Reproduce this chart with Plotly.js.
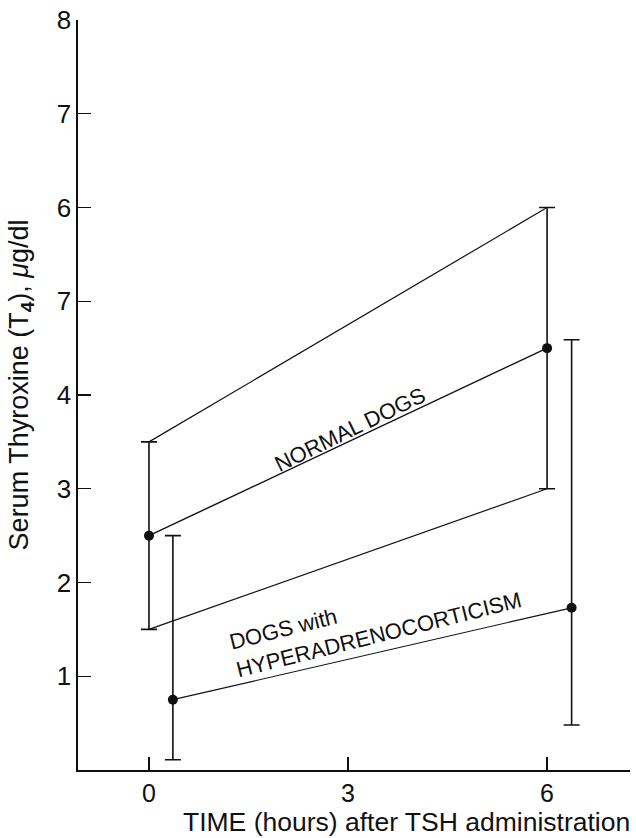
<!DOCTYPE html>
<html>
<head>
<meta charset="utf-8">
<script src="https://cdn.plot.ly/plotly-3.0.1.min.js"></script>
<style>html,body{margin:0;padding:0;background:#fff;}#chart{width:636px;height:838px;}</style>
</head>
<body>
<div id="chart"></div>
<script>
// Data
const normalHours = [0, 6];
const normalMean = [2.5, 4.5];
const normalUpper = [3.5, 6.0];
const normalLower = [1.5, 3.0];

const hyperHours = [0.36, 6.37];
const hyperMean = [0.75, 1.73];
const hyperUpper = [2.5, 4.59];
const hyperLower = [0.11, 0.48];

const xTickVals = [0, 3, 6];
const xTickText = ['0', '3', '6'];
const yTickVals = [1, 2, 3, 4, 5, 6, 7, 8];
const yTickText = ['1', '2', '3', '4', '7', '6', '7', '8'];

const font = 'Liberation Sans, Arial, Helvetica, sans-serif';
const ink = '#111';

const plus = (hi, m) => hi.map((v, i) => v - m[i]);
const minus = (lo, m) => m.map((v, i) => v - lo[i]);

const traces = [
  {x: normalHours, y: normalUpper, mode: 'lines', line: {color: ink, width: 1.2}, hoverinfo: 'skip'},
  {x: normalHours, y: normalLower, mode: 'lines', line: {color: ink, width: 1.2}, hoverinfo: 'skip'},
  {
    x: normalHours, y: normalMean, mode: 'lines+markers', name: 'Normal dogs',
    line: {color: ink, width: 1.4},
    marker: {color: ink, size: 10},
    error_y: {type: 'data', symmetric: false, array: plus(normalUpper, normalMean),
      arrayminus: minus(normalLower, normalMean), color: ink, thickness: 1.6, width: 8}
  },
  {
    x: hyperHours, y: hyperMean, mode: 'lines+markers', name: 'Dogs with hyperadrenocorticism',
    line: {color: ink, width: 1.2},
    marker: {color: ink, size: 10},
    error_y: {type: 'data', symmetric: false, array: plus(hyperUpper, hyperMean),
      arrayminus: minus(hyperLower, hyperMean), color: ink, thickness: 1.6, width: 8}
  }
];

const layout = {
  width: 636, height: 838,
  margin: {l: 78, r: 6, t: 20, b: 68},
  paper_bgcolor: '#fff', plot_bgcolor: '#fff',
  showlegend: false,
  font: {family: font, color: ink},
  xaxis: {
    range: [-1.07, 7.25], showgrid: false, zeroline: false,
    showline: true, linecolor: ink, linewidth: 1.6,
    ticks: 'inside', ticklen: 13, tickwidth: 1.4, tickcolor: ink,
    tickvals: xTickVals, ticktext: xTickText,
    tickfont: {size: 25, family: font, color: ink}
  },
  yaxis: {
    range: [0, 8], showgrid: false, zeroline: false,
    showline: true, linecolor: ink, linewidth: 1.6,
    ticks: 'inside', ticklen: 13, tickwidth: 1.4, tickcolor: ink,
    tickvals: yTickVals, ticktext: yTickText,
    tickfont: {size: 26, family: font, color: ink}
  },
  annotations: [
    {xref: 'paper', yref: 'paper', x: -0.103, y: 0.513, xanchor: 'center', yanchor: 'middle',
     showarrow: false, textangle: -90,
     text: 'Serum Thyroxine (T<sub><b>4</b></sub>), <i>μ</i>g/dl', font: {size: 27, family: font, color: ink}},
    {xref: 'paper', yref: 'paper', x: 0.596, y: -0.069, xanchor: 'center', yanchor: 'middle',
     showarrow: false,
     text: 'TIME (hours) after TSH administration', font: {size: 26.5, family: font, color: ink}},
    {xref: 'x', yref: 'y', x: 3.03, y: 3.63, xanchor: 'center', yanchor: 'middle',
     showarrow: false, textangle: -26,
     text: 'NORMAL DOGS', font: {size: 22, family: font, color: ink}},
    {xref: 'x', yref: 'y', x: 3.42, y: 1.59, xanchor: 'center', yanchor: 'middle',
     showarrow: false, textangle: -14, align: 'left',
     text: 'DOGS with<br>HYPERADRENOCORTICISM', font: {size: 22, family: font, color: ink}}
  ]
};

Plotly.newPlot('chart', traces, layout, {displayModeBar: false, staticPlot: true});
</script>
</body>
</html>
